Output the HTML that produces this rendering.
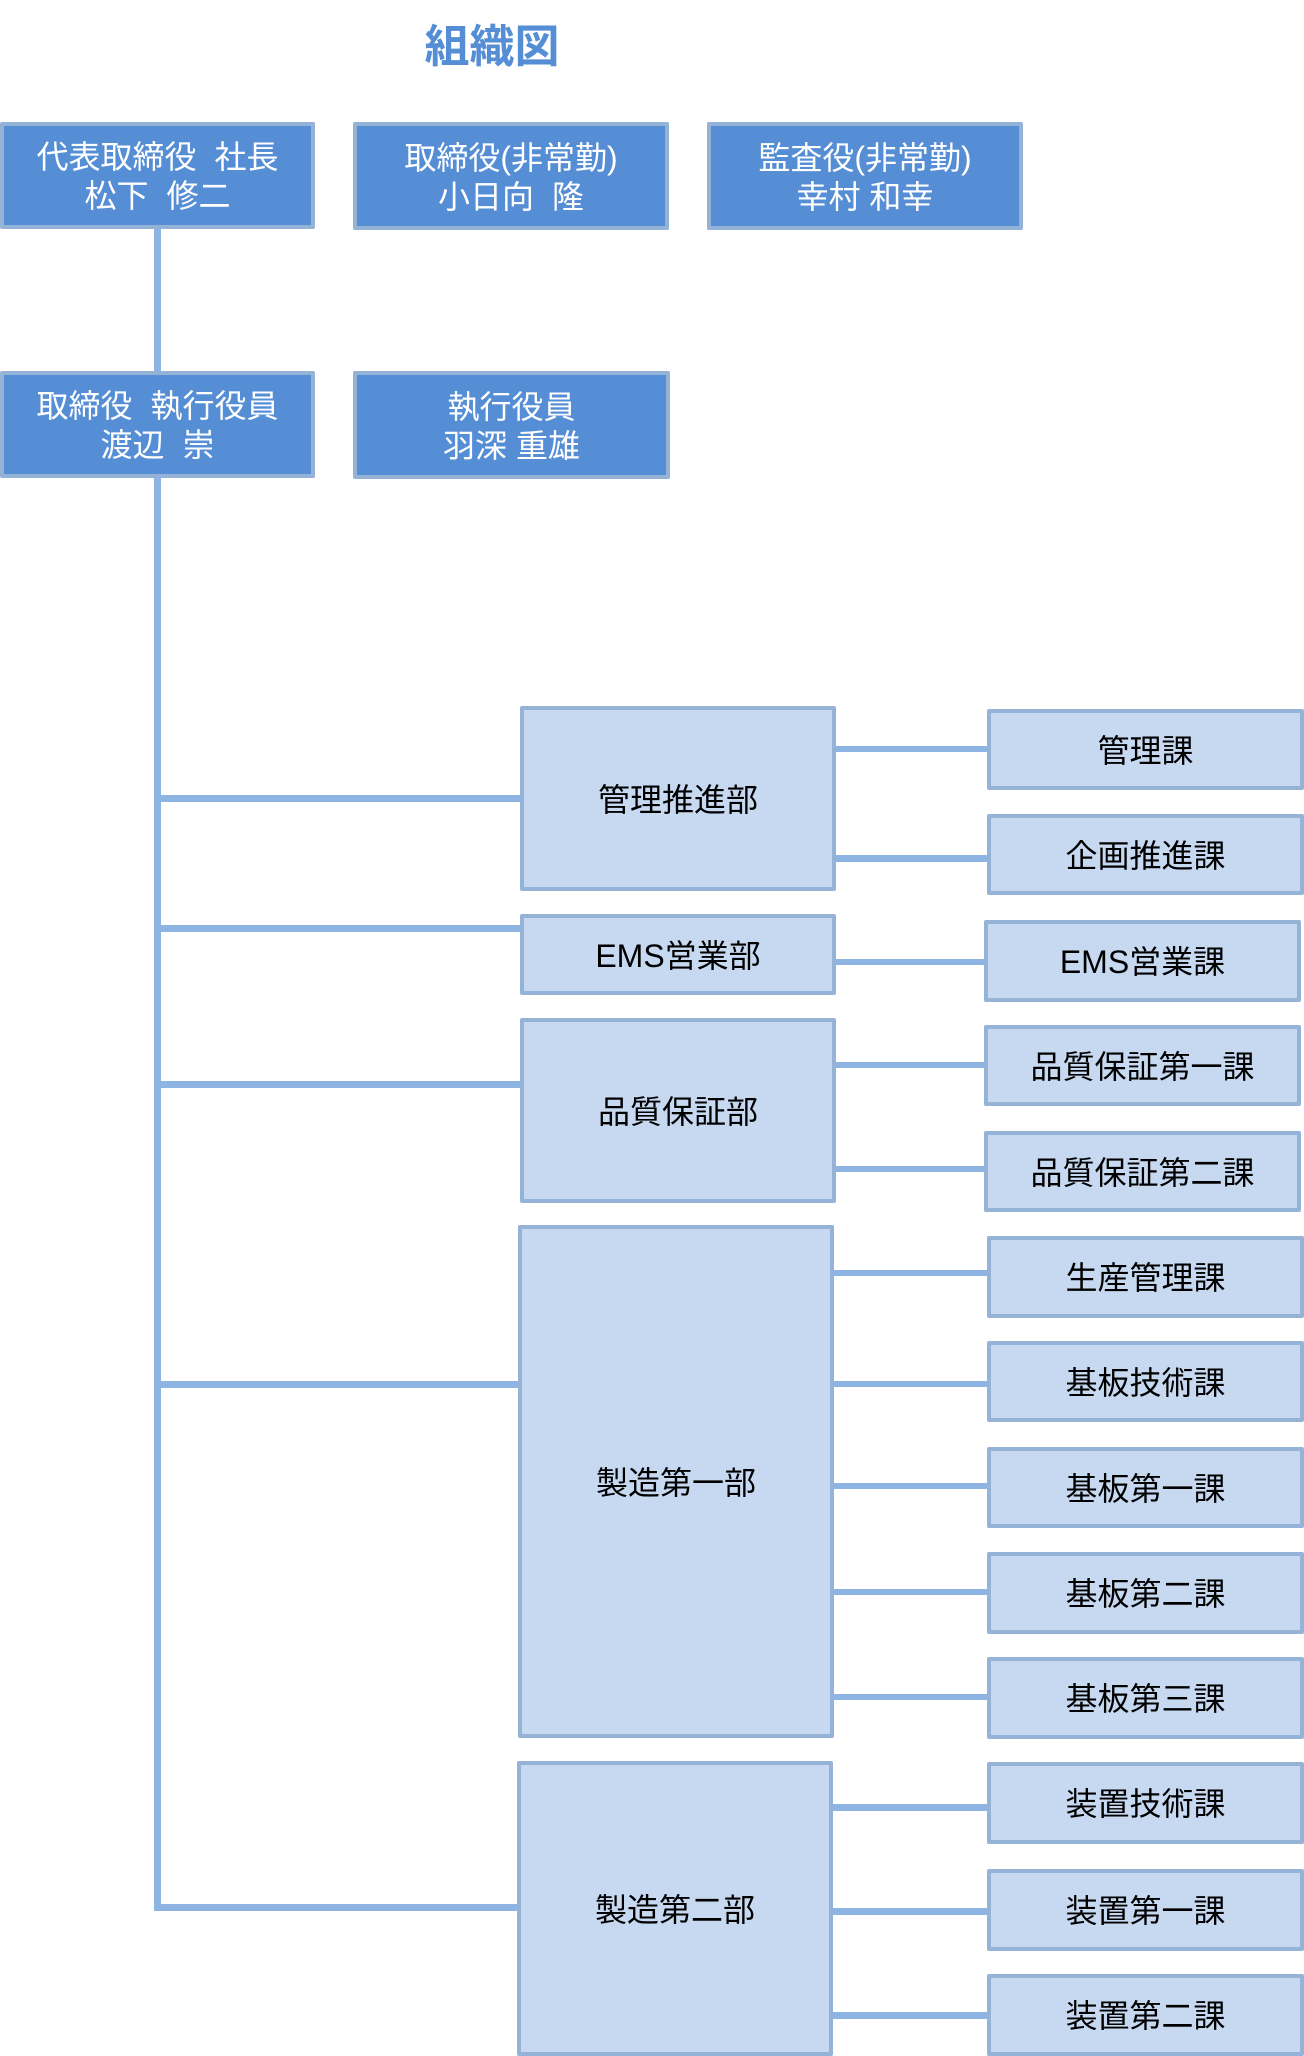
<!DOCTYPE html>
<html><head><meta charset="utf-8">
<style>
html,body{margin:0;padding:0;background:#fff;}
body{width:1304px;height:2056px;position:relative;overflow:hidden;font-family:"Liberation Sans","Noto Sans CJK JP",sans-serif;}
.l{position:absolute;background:#8EB4E3;}
.b{position:absolute;box-sizing:border-box;border:4.5px solid #95B3D7;border-radius:2px;display:flex;align-items:center;justify-content:center;text-align:center;white-space:nowrap;}
.top{background:#558ED5;color:#fff;font-size:32px;line-height:39px;padding-top:3px;}
.dep{background:#C6D9F1;color:#000;font-size:32px;line-height:40px;padding-top:2px;}
.sp{display:inline-block;width:18px;}
.title{position:absolute;left:392px;top:24px;width:200px;text-align:center;font-size:45px;line-height:45px;font-weight:bold;color:#558ED5;}
</style></head><body>
<div class="title">組織図</div>

<!-- trunk -->
<div class="l" style="left:154px;top:229px;width:7px;height:1682px;border-radius:0 0 0 3px;"></div>
<!-- branches -->
<div class="l" style="left:154px;top:795px;width:368px;height:7px;"></div>
<div class="l" style="left:154px;top:924.5px;width:368px;height:7px;"></div>
<div class="l" style="left:154px;top:1081px;width:368px;height:7px;"></div>
<div class="l" style="left:154px;top:1380.5px;width:366px;height:7px;"></div>
<div class="l" style="left:154px;top:1904px;width:366px;height:7px;"></div>

<!-- dept to section connectors -->
<div class="l" style="left:830px;top:745.5px;width:160px;height:6.5px;"></div>
<div class="l" style="left:830px;top:855px;width:160px;height:6.5px;"></div>
<div class="l" style="left:830px;top:958.5px;width:158px;height:6.5px;"></div>
<div class="l" style="left:830px;top:1061.5px;width:158px;height:6.5px;"></div>
<div class="l" style="left:830px;top:1165.5px;width:158px;height:6.5px;"></div>
<div class="l" style="left:830px;top:1269.5px;width:160px;height:6.5px;"></div>
<div class="l" style="left:830px;top:1380.5px;width:160px;height:6.5px;"></div>
<div class="l" style="left:830px;top:1482.5px;width:160px;height:6.5px;"></div>
<div class="l" style="left:830px;top:1588.5px;width:160px;height:6.5px;"></div>
<div class="l" style="left:830px;top:1693.5px;width:160px;height:6.5px;"></div>
<div class="l" style="left:830px;top:1804px;width:160px;height:6.5px;"></div>
<div class="l" style="left:830px;top:1908px;width:160px;height:6.5px;"></div>
<div class="l" style="left:830px;top:2012px;width:160px;height:6.5px;"></div>

<!-- top boxes -->
<div class="b top" style="left:0;top:122px;width:315px;height:107px;"><div>代表取締役<span class="sp"></span>社長<br>松下<span class="sp"></span>修二</div></div>
<div class="b top" style="left:353px;top:122px;width:316px;height:108px;"><div>取締役(非常勤)<br>小日向<span class="sp"></span>隆</div></div>
<div class="b top" style="left:707px;top:122px;width:316px;height:108px;"><div>監査役(非常勤)<br>幸村 和幸</div></div>
<div class="b top" style="left:0;top:371px;width:315px;height:107px;"><div>取締役<span class="sp"></span>執行役員<br>渡辺<span class="sp"></span>崇</div></div>
<div class="b top" style="left:353px;top:371px;width:317px;height:108px;"><div>執行役員<br>羽深 重雄</div></div>

<!-- departments -->
<div class="b dep" style="left:520px;top:706px;width:316px;height:185px;">管理推進部</div>
<div class="b dep" style="left:520px;top:914px;width:316px;height:81px;">EMS営業部</div>
<div class="b dep" style="left:520px;top:1018px;width:316px;height:185px;">品質保証部</div>
<div class="b dep" style="left:518px;top:1225px;width:316px;height:513px;">製造第一部</div>
<div class="b dep" style="left:517px;top:1761px;width:316px;height:295px;">製造第二部</div>

<!-- sections -->
<div class="b dep" style="left:987px;top:709px;width:317px;height:81px;">管理課</div>
<div class="b dep" style="left:987px;top:814px;width:317px;height:81px;">企画推進課</div>
<div class="b dep" style="left:984px;top:919.5px;width:317px;height:82px;">EMS営業課</div>
<div class="b dep" style="left:984px;top:1025px;width:317px;height:81px;">品質保証第一課</div>
<div class="b dep" style="left:984px;top:1131px;width:317px;height:81px;">品質保証第二課</div>
<div class="b dep" style="left:987px;top:1235.5px;width:317px;height:82px;">生産管理課</div>
<div class="b dep" style="left:987px;top:1341px;width:317px;height:81px;">基板技術課</div>
<div class="b dep" style="left:987px;top:1447px;width:317px;height:81px;">基板第一課</div>
<div class="b dep" style="left:987px;top:1551.5px;width:317px;height:82px;">基板第二課</div>
<div class="b dep" style="left:987px;top:1657px;width:317px;height:82px;">基板第三課</div>
<div class="b dep" style="left:987px;top:1762px;width:317px;height:82px;">装置技術課</div>
<div class="b dep" style="left:987px;top:1868.5px;width:317px;height:82px;">装置第一課</div>
<div class="b dep" style="left:987px;top:1974px;width:317px;height:82px;">装置第二課</div>
</body></html>
